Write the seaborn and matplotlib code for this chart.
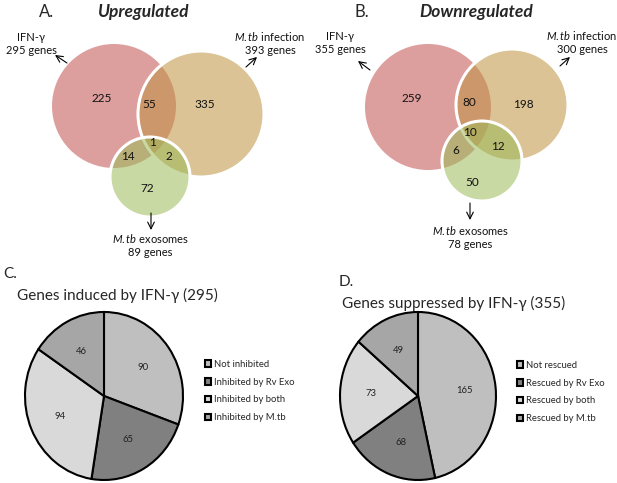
import matplotlib
matplotlib.use('Agg')
import matplotlib.pyplot as plt
import seaborn as sns
from matplotlib.patches import Circle

sns.set_theme(style='white')
plt.rcParams['font.family'] = ['Lato', 'Noto Sans', 'DejaVu Sans']
plt.rcParams['mathtext.fontset'] = 'custom'
plt.rcParams['mathtext.it'] = 'Lato:italic'
plt.rcParams['mathtext.rm'] = 'Lato'

# venn counts: ifn only, ifn&mtb, mtb only, ifn&exo, all three, mtb&exo, exo only
up_counts = [225, 55, 335, 14, 1, 2, 72]
down_counts = [259, 80, 198, 6, 10, 12, 50]
up_totals = [295, 393, 89]
down_totals = [355, 300, 78]

pie_induced = [90, 65, 94, 46]
pie_suppressed = [165, 68, 73, 49]
induced_labels = ['Not inhibited', 'Inhibited by Rv Exo', 'Inhibited by both', 'Inhibited by M.tb']
suppressed_labels = ['Not rescued', 'Rescued by Rv Exo', 'Rescued by both', 'Rescued by M.tb']
pie_colors = ['#bfbfbf', '#808080', '#d9d9d9', '#a6a6a6']

venn_colors = ['#c0504d', '#bf9240', '#9bbb59']

W, H = 617, 483
fig = plt.figure(figsize=(W / 100, H / 100), dpi=100)
ax0 = fig.add_axes([0, 0, 1, 1])
ax0.set_xlim(0, W)
ax0.set_ylim(H, 0)
ax0.axis('off')


def draw_venn(circles, counts, count_pos, totals, label_pos, arrows):
    for i, (cx, cy, r) in enumerate(circles):
        ax0.add_patch(Circle((cx, cy), r, facecolor=venn_colors[i], alpha=0.55, edgecolor='none'))
        if i > 0:
            ax0.add_patch(Circle((cx, cy), r, facecolor='none', edgecolor='white', lw=2.2))
    for n, (x, y) in zip(counts, count_pos):
        ax0.text(x, y, str(n), ha='center', va='center', fontsize=8.5, color='#111111')
    names = ['IFN-γ', r'$\mathit{M.tb}$ infection', r'$\mathit{M.tb}$ exosomes']
    for name, tot, (x, y) in zip(names, totals, label_pos):
        ax0.text(x, y, f'{name}\n{tot} genes', ha='center', va='top', fontsize=8,
                 linespacing=1.2, color='#111111')
    for (x0, y0, x1, y1) in arrows:
        ax0.annotate('', xy=(x1, y1), xytext=(x0, y0),
                     arrowprops=dict(arrowstyle='->', lw=0.8, color='black',
                                     shrinkA=0, shrinkB=0))


draw_venn([(114, 106, 62), (201, 114, 63), (150, 177, 40)], up_counts,
          [(102, 99), (149, 104), (205, 104), (128, 156), (152, 143), (169, 157), (147, 188)],
          up_totals, [(31, 32), (270, 30), (150, 232)],
          [(67, 63, 55, 55), (246, 67, 257, 57), (151, 213, 151, 230)])
draw_venn([(428, 107, 63), (512, 105, 56), (482, 161, 40)], down_counts,
          [(412, 98), (469, 103), (523, 104), (456, 151), (470, 132), (498, 147), (472, 182)],
          down_totals, [(340, 31), (582, 29), (470, 224)],
          [(370, 70, 358, 61), (560, 66, 570, 57), (470, 203, 470, 220)])

ax0.text(47, 12, 'A.', ha='center', va='center', fontsize=12)
ax0.text(144, 12, 'Upregulated', ha='center', va='center', fontsize=12.5,
         fontweight='bold', fontstyle='italic')
ax0.text(362, 12, 'B.', ha='center', va='center', fontsize=12)
ax0.text(476, 12, 'Downregulated', ha='center', va='center', fontsize=12.5,
         fontweight='bold', fontstyle='italic')

ax0.text(3, 274, 'C.', ha='left', va='center', fontsize=11)
ax0.text(17, 295, 'Genes induced by IFN-γ (295)', ha='left', va='center', fontsize=11)
ax0.text(339, 282, 'D.', ha='left', va='center', fontsize=11)
ax0.text(342, 303, 'Genes suppressed by IFN-γ (355)', ha='left', va='center', fontsize=11)


def draw_pie(vals, labels, cx, cy, rx, ry, leg_x, leg_y):
    ax = fig.add_axes([(cx - 1.25 * rx) / W, 1 - (cy + 1.25 * ry) / H, 2.5 * rx / W, 2.5 * ry / H])
    total = sum(vals)
    wedges, _, autotexts = ax.pie(vals, colors=pie_colors, startangle=90, counterclock=False,
                                  autopct=lambda p: f'{p * total / 100:.0f}', pctdistance=0.6,
                                  wedgeprops=dict(edgecolor='black', linewidth=1.5),
                                  textprops=dict(fontsize=6.8, color='#222222'))
    ax.set_aspect('auto')
    ax.set_xlim(-1.25, 1.25)
    ax.set_ylim(-1.25, 1.25)
    fig.legend(wedges, labels, loc='center left', bbox_to_anchor=(leg_x / W, 1 - leg_y / H),
               frameon=False, fontsize=6.8, handlelength=0.7, handleheight=0.7,
               handletextpad=0.3, labelspacing=0.95, borderpad=0)


draw_pie(pie_induced, induced_labels, 104, 396, 79, 84, 200, 391)
draw_pie(pie_suppressed, suppressed_labels, 418, 396, 78, 84, 512, 392)

fig.savefig('out.png', dpi=100)
